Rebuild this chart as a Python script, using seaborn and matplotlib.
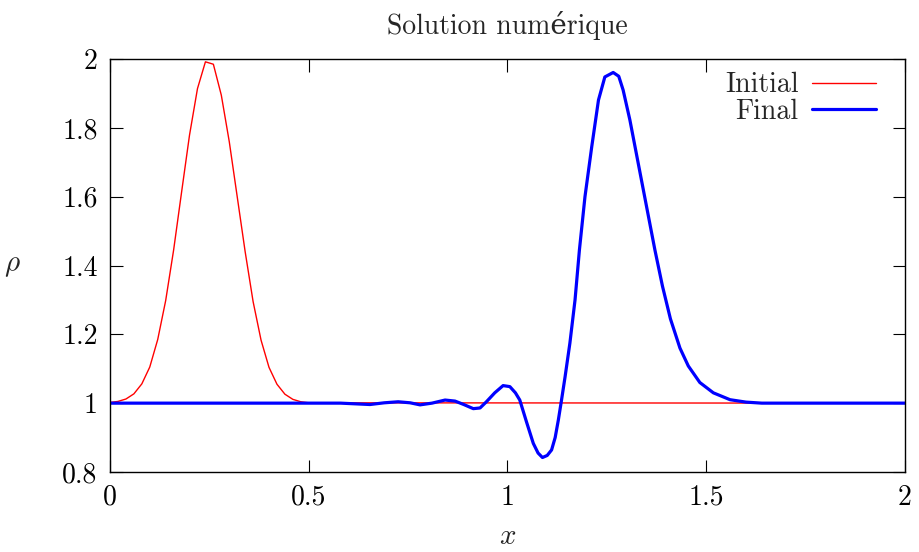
import matplotlib
matplotlib.use("Agg")
import matplotlib.pyplot as plt
import matplotlib.ticker as mticker
import seaborn as sns

# -------------------------
# Data
# -------------------------
x_initial = [0.0, 0.02, 0.04, 0.06, 0.08, 0.10, 0.12, 0.14, 0.16, 0.18, 0.20,
             0.22, 0.24, 0.26, 0.28, 0.30, 0.32, 0.34, 0.36, 0.38, 0.40,
             0.42, 0.44, 0.46, 0.48, 0.50, 2.0]
rho_initial = [1.002, 1.005, 1.012, 1.027, 1.056, 1.105, 1.185, 1.298, 1.445,
               1.613, 1.779, 1.914, 1.992, 1.985, 1.895, 1.760, 1.600, 1.440,
               1.295, 1.183, 1.104, 1.055, 1.026, 1.011, 1.004, 1.001, 1.0]

x_final = [0.0, 0.58, 0.654, 0.69, 0.725, 0.755, 0.78, 0.81, 0.843, 0.868,
           0.89, 0.914, 0.931, 0.947, 0.968, 0.989, 1.006, 1.02, 1.031, 1.048,
           1.065, 1.077, 1.088, 1.100, 1.111, 1.120, 1.128, 1.136, 1.145,
           1.157, 1.170, 1.181, 1.195, 1.212, 1.229, 1.245, 1.266, 1.280,
           1.291, 1.308, 1.329, 1.350, 1.371, 1.390, 1.410, 1.434, 1.455,
           1.484, 1.518, 1.560, 1.600, 1.640, 2.0]
rho_final = [1.0, 1.0, 0.996, 1.001, 1.004, 1.001, 0.995, 1.0, 1.009, 1.006,
             0.996, 0.984, 0.986, 1.004, 1.030, 1.051, 1.048, 1.030, 1.009,
             0.945, 0.883, 0.855, 0.842, 0.848, 0.864, 0.900, 0.951, 1.009,
             1.077, 1.174, 1.300, 1.445, 1.600, 1.745, 1.881, 1.948, 1.961,
             1.950, 1.910, 1.823, 1.697, 1.571, 1.445, 1.340, 1.245, 1.160,
             1.108, 1.060, 1.030, 1.010, 1.003, 1.0, 1.0]

x_ticks = [0, 0.5, 1, 1.5, 2]
y_ticks = [0.8, 1.0, 1.2, 1.4, 1.6, 1.8, 2.0]

# -------------------------
# Style
# -------------------------
sns.set_style("ticks")
plt.rcParams["font.family"] = ["cmr10", "DejaVu Serif"]
plt.rcParams["mathtext.fontset"] = "cm"
plt.rcParams["axes.formatter.use_mathtext"] = True
plt.rcParams["axes.unicode_minus"] = False

fig = plt.figure(figsize=(9.2, 5.52), dpi=100)
ax = fig.add_axes([0.1196, 0.145, 0.864, 0.748])

sns.lineplot(x=x_initial, y=rho_initial, ax=ax, color="#ff0000",
             linewidth=1.0, label="Initial")
sns.lineplot(x=x_final, y=rho_final, ax=ax, color="#0000ff",
             linewidth=2.3, label="Final")

ax.set_xlim(0, 2)
ax.set_ylim(0.8, 2)
ax.set_xticks(x_ticks)
ax.set_yticks(y_ticks)
ax.xaxis.set_major_formatter(mticker.FormatStrFormatter("%g"))
ax.yaxis.set_major_formatter(mticker.FormatStrFormatter("%g"))
ax.tick_params(direction="in", length=9, width=0.8, top=True, right=True,
               labelsize=20, colors="black")
ax.tick_params(axis="x", pad=9)
ax.tick_params(axis="y", pad=9)
for s in ax.spines.values():
    s.set_linewidth(1.0)
    s.set_color("black")

ax.set_title("Solution numérique", fontsize=20, pad=18)
ax.set_xlabel("$x$", fontsize=21, labelpad=9)
ax.set_ylabel(r"$\rho$", fontsize=21, rotation=0, labelpad=36, va="center")

ax.legend(loc="upper right", bbox_to_anchor=(0.971, 0.982),
          markerfirst=False, frameon=False, fontsize=20,
          handlelength=2.3, handletextpad=0.5, labelspacing=0.0,
          borderaxespad=0.0, borderpad=0.2)

fig.savefig("out.png", dpi=100)
plt.close(fig)
